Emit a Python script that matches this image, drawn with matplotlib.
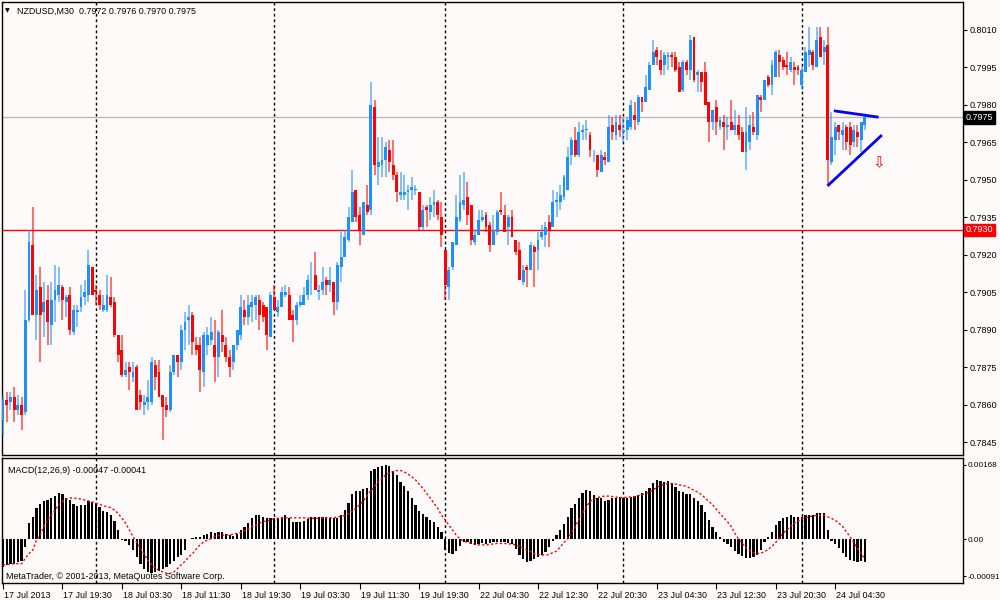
import numpy as np
import matplotlib
matplotlib.use("Agg")
import matplotlib.pyplot as plt
from matplotlib import transforms

# NZDUSD M30 candles, bar 0 = 17 Jul 2013 11:30
opens = [
    .7854, .7862, .7861, .7863, .7858, .7860, .7857, .7894, .7924, .7896,
    .7907, .7897, .7902, .7892, .7902, .7904, .7907, .7901, .7904, .7889,
    .7897, .7899, .7903, .7904, .7915, .7906, .7904, .7898, .7898, .7903,
    .7901, .7888, .7882, .7872, .7875, .7871, .7875, .7864, .7860, .7861,
    .7861, .7876, .7873, .7864, .7860, .7858, .7873, .7880, .7877, .7890,
    .7894, .7896, .7884, .7884, .7873, .7884, .7886, .7884, .7879, .7888,
    .7884, .7879, .7877, .7884, .7888, .7898, .7895, .7899, .7900, .7902,
    .7900, .7899, .7887, .7903, .7897, .7899, .7904, .7904, .7896, .7894,
    .7900, .7900, .7904, .7911, .7912, .7905, .7906, .7910, .7908, .7909,
    .7901, .7915, .7919, .7926, .7933, .7946, .7936, .7928, .7940, .7938,
    .7979, .7955, .7956, .7958, .7962, .7956, .7952, .7944, .7944, .7945,
    .7946, .7946, .7945, .7931, .7939, .7937, .7940, .7941, .7935, .7922,
    .7907, .7915, .7924, .7934, .7940, .7943, .7940, .7925, .7928, .7934,
    .7936, .7932, .7924, .7929, .7938, .7936, .7931, .7935, .7926, .7922,
    .7909, .7915, .7914, .7923, .7922, .7927, .7928, .7933, .7931, .7941,
    .7941, .7943, .7946, .7960, .7966, .7960, .7969, .7970, .7968, .7961,
    .7960, .7953, .7959, .7957, .7972, .7968, .7972, .7969, .7970, .7971,
    .7976, .7973, .7983, .7981, .7986, .7996, .8002, .7998, .7996, .7999,
    .8000, .7999, .7995, .7986, .7997, .7994, .8007, .7992, .7993, .7993,
    .7981, .7973, .7979, .7971, .7973, .7971, .7973, .7970, .7972, .7969,
    .7961, .7965, .7971, .7968, .7983, .7982, .7991, .7988, .7991, .8000,
    .7998, .7996, .7994, .7995, .7995, .7988, .7993, .8000, .8001, .7995,
    .8007, .8001, .8004, .7957, .7966, .7972, .7968, .7971, .7971, .7965,
    .7969, .7966, .7972,
]
highs = [
    .7864, .7865, .7865, .7867, .7864, .7863, .7906, .7930, .7939, .7912,
    .7915, .7909, .7908, .7909, .7916, .7915, .7908, .7904, .7907, .7900,
    .7900, .7908, .7910, .7922, .7915, .7908, .7906, .7904, .7912, .7911,
    .7903, .7888, .7888, .7877, .7877, .7877, .7876, .7866, .7864, .7870,
    .7879, .7878, .7878, .7864, .7863, .7876, .7880, .7880, .7892, .7897,
    .7900, .7897, .7887, .7887, .7889, .7891, .7895, .7894, .7890, .7898,
    .7887, .7882, .7884, .7890, .7904, .7902, .7904, .7904, .7904, .7904,
    .7901, .7899, .7905, .7908, .7902, .7907, .7908, .7907, .7898, .7901,
    .7904, .7907, .7912, .7917, .7921, .7908, .7915, .7911, .7915, .7909,
    .7917, .7929, .7930, .7939, .7954, .7946, .7939, .7941, .7948, .7989,
    .7982, .7967, .7967, .7965, .7966, .7966, .7953, .7953, .7952, .7948,
    .7951, .7948, .7945, .7940, .7940, .7943, .7946, .7942, .7941, .7922,
    .7915, .7925, .7944, .7952, .7953, .7949, .7940, .7930, .7938, .7938,
    .7937, .7933, .7936, .7938, .7945, .7940, .7936, .7938, .7926, .7925,
    .7916, .7916, .7925, .7924, .7929, .7932, .7933, .7936, .7946, .7945,
    .7948, .7952, .7963, .7967, .7971, .7973, .7972, .7974, .7969, .7962,
    .7960, .7962, .7961, .7976, .7975, .7976, .7976, .7975, .7975, .7982,
    .7981, .7984, .7983, .7992, .7997, .8006, .8003, .8002, .8001, .8001,
    .8001, .8001, .7997, .7998, .7998, .8008, .8007, .7994, .7993, .7997,
    .7981, .7978, .7982, .7975, .7976, .7975, .7982, .7978, .7976, .7971,
    .7979, .7976, .7977, .7984, .7984, .7990, .7992, .7998, .8002, .8002,
    .7999, .8001, .7999, .7997, .7996, .7995, .8003, .8011, .8002, .8011,
    .8011, .8006, .8011, .7977, .7973, .7972, .7973, .7972, .7973, .7972,
    .7972, .7973, .7976,
]
lows = [
    .7848, .7853, .7858, .7853, .7856, .7850, .7856, .7893, .7896, .7886,
    .7877, .7887, .7884, .7884, .7893, .7901, .7894, .7895, .7888, .7888,
    .7891, .7897, .7900, .7901, .7904, .7900, .7898, .7897, .7897, .7899,
    .7887, .7877, .7871, .7871, .7866, .7869, .7858, .7858, .7856, .7858,
    .7860, .7866, .7863, .7846, .7855, .7857, .7872, .7871, .7874, .7882,
    .7884, .7880, .7880, .7865, .7867, .7880, .7884, .7869, .7871, .7881,
    .7877, .7871, .7874, .7882, .7886, .7892, .7892, .7893, .7894, .7890,
    .7893, .7882, .7887, .7898, .7895, .7899, .7903, .7894, .7885, .7892,
    .7899, .7900, .7902, .7904, .7906, .7902, .7904, .7904, .7905, .7896,
    .7898, .7909, .7919, .7925, .7933, .7933, .7924, .7928, .7936, .7936,
    .7952, .7948, .7951, .7951, .7953, .7950, .7941, .7942, .7942, .7938,
    .7942, .7944, .7930, .7930, .7931, .7934, .7935, .7934, .7923, .7902,
    .7902, .7914, .7924, .7933, .7938, .7932, .7924, .7924, .7928, .7933,
    .7929, .7921, .7924, .7928, .7936, .7929, .7924, .7927, .7920, .7910,
    .7908, .7907, .7914, .7907, .7914, .7926, .7923, .7923, .7931, .7935,
    .7938, .7942, .7946, .7956, .7959, .7959, .7966, .7966, .7959, .7957,
    .7951, .7953, .7956, .7957, .7966, .7966, .7967, .7965, .7966, .7970,
    .7970, .7972, .7977, .7981, .7986, .7996, .7996, .7992, .7992, .7994,
    .7995, .7993, .7985, .7985, .7992, .7990, .7989, .7985, .7985, .7980,
    .7965, .7970, .7968, .7970, .7962, .7966, .7970, .7968, .7966, .7961,
    .7954, .7962, .7968, .7966, .7977, .7982, .7987, .7984, .7991, .7991,
    .7994, .7992, .7993, .7988, .7992, .7986, .7993, .7995, .7994, .7995,
    .7999, .7996, .7948, .7956, .7960, .7966, .7962, .7962, .7960, .7963,
    .7963, .7961, .7970,
]
closes = [
    .7862, .7860, .7863, .7858, .7860, .7856, .7894, .7925, .7896, .7906,
    .7896, .7901, .7893, .7902, .7906, .7908, .7902, .7903, .7890, .7898,
    .7898, .7903, .7905, .7916, .7904, .7905, .7900, .7900, .7904, .7900,
    .7888, .7880, .7872, .7874, .7873, .7873, .7858, .7861, .7861, .7863,
    .7877, .7871, .7863, .7859, .7858, .7873, .7880, .7877, .7890, .7893,
    .7895, .7885, .7882, .7874, .7888, .7888, .7889, .7879, .7889, .7885,
    .7879, .7875, .7884, .7890, .7899, .7895, .7900, .7901, .7903, .7896,
    .7895, .7888, .7904, .7898, .7899, .7905, .7905, .7894, .7894, .7900,
    .7901, .7904, .7910, .7911, .7906, .7906, .7909, .7908, .7910, .7901,
    .7916, .7919, .7927, .7935, .7945, .7935, .7930, .7941, .7937, .7980,
    .7956, .7957, .7958, .7963, .7957, .7952, .7945, .7945, .7945, .7946,
    .7947, .7946, .7931, .7938, .7938, .7940, .7941, .7936, .7928, .7908,
    .7914, .7925, .7935, .7941, .7942, .7936, .7926, .7928, .7934, .7935,
    .7931, .7924, .7930, .7937, .7937, .7929, .7935, .7927, .7921, .7910,
    .7914, .7914, .7924, .7921, .7926, .7929, .7931, .7930, .7941, .7942,
    .7944, .7951, .7959, .7966, .7960, .7969, .7970, .7970, .7962, .7961,
    .7954, .7960, .7958, .7971, .7969, .7973, .7970, .7970, .7974, .7980,
    .7974, .7983, .7981, .7987, .7996, .8001, .7999, .7994, .8000, .8000,
    .7999, .7994, .7985, .7997, .7994, .8006, .7990, .7993, .7989, .7980,
    .7973, .7978, .7973, .7974, .7971, .7972, .7970, .7972, .7968, .7961,
    .7969, .7972, .7969, .7984, .7982, .7990, .7988, .7996, .8001, .7997,
    .7995, .7995, .7997, .7994, .7994, .7994, .8001, .8002, .7996, .8006,
    .7999, .8003, .7958, .7967, .7971, .7969, .7970, .7965, .7964, .7970,
    .7967, .7973, .7975,
]

# MACD(12,26,9) main and signal, in units of 1e-5
macd_e5 = [
    -58, -54, -51, -51, -47, -46, -16, 33, 46, 65, 72, 79, 81, 86, 90, 95,
    93, 86, 81, 72, 69, 71, 71, 78, 76, 74, 67, 58, 56, 50, 37, 19,
    -2, -4, -12, -23, -37, -51, -62, -69, -71, -69, -67, -61, -58, -51, -46, -37,
    -32, -23, 1, 3, 5, 5, 8, 10, 14, 12, 14, 14, 10, 8, 7, 10,
    19, 26, 33, 43, 49, 49, 46, 44, 43, 44, 44, 46, 49, 43, 36, 36,
    36, 37, 42, 46, 46, 46, 46, 46, 44, 44, 44, 50, 60, 74, 93, 99,
    100, 104, 105, 140, 146, 149, 151, 153, 151, 142, 133, 119, 109, 99, 86, 71,
    58, 51, 46, 40, 36, 26, 15, -23, -28, -30, -25, -14, -7, -7, -11, -12,
    -11, -9, -11, -9, -7, -7, -7, -7, -9, -11, -21, -32, -42, -47, -46, -42,
    -37, -33, -26, -16, -4, 8, 19, 31, 46, 64, 72, 85, 95, 102, 100, 92,
    86, 85, 78, 81, 85, 86, 88, 86, 85, 88, 90, 92, 95, 99, 105, 116,
    122, 121, 119, 121, 116, 107, 99, 97, 93, 93, 86, 78, 71, 57, 40, 26,
    14, 5, -7, -11, -16, -25, -30, -35, -40, -40, -37, -32, -23, -7, 5, 14,
    29, 37, 43, 46, 49, 46, 46, 46, 50, 50, 49, 53, 53, 53, 19, -4,
    -11, -19, -28, -37, -44, -46, -47, -46, -47,
]
signal_e5 = [
    -54, -53, -52, -51, -51, -51, -40, -30, -23, -2, 8, 26, 40, 49, 60, 71,
    78, 83, 85, 85, 84, 83, 81, 79, 77, 74, 72, 69, 67, 65, 60, 53,
    43, 33, 19, 5, -7, -19, -32, -44, -53, -60, -65, -68, -71, -71, -68, -61,
    -53, -46, -37, -30, -21, -12, -6, -2, 1, 5, 7, 8, 8, 9, 10, 12,
    14, 17, 21, 26, 29, 33, 36, 38, 40, 42, 43, 44, 44, 44, 44, 44,
    44, 44, 43, 43, 43, 43, 44, 44, 44, 44, 46, 47, 49, 53, 58, 64,
    71, 79, 90, 100, 109, 118, 126, 133, 137, 140, 142, 142, 139, 135, 129, 123,
    114, 105, 95, 85, 74, 64, 50, 40, 29, 19, 8, 0, -4, -7, -9, -11,
    -12, -12, -12, -11, -10, -9, -9, -9, -10, -10, -12, -15, -19, -23, -26, -30,
    -32, -33, -33, -32, -28, -25, -16, -7, 1, 14, 26, 40, 53, 67, 78, 83,
    86, 88, 89, 89, 88, 87, 86, 86, 87, 87, 88, 90, 92, 94, 97, 102,
    107, 111, 114, 115, 115, 114, 112, 111, 109, 105, 101, 97, 92, 85, 78, 71,
    62, 53, 44, 36, 26, 12, 0, -9, -18, -24, -28, -30, -29, -26, -21, -15,
    -7, 3, 12, 19, 26, 33, 37, 42, 44, 46, 48, 49, 49, 49, 46, 43,
    39, 33, 26, 15, 5, -7, -19, -30, -41,
]

time_labels = [
    "17 Jul 2013", "17 Jul 19:30", "18 Jul 03:30", "18 Jul 11:30",
    "18 Jul 19:30", "19 Jul 03:30", "19 Jul 11:30", "19 Jul 19:30",
    "22 Jul 04:30", "22 Jul 12:30", "22 Jul 20:30", "23 Jul 04:30",
    "23 Jul 12:30", "23 Jul 20:30", "24 Jul 04:30",
]
label_bars = [0, 16, 32, 48, 64, 80, 96, 112, 128, 144, 160, 176, 192, 208, 224]
day_starts = [25, 73, 119, 167, 215]

price_ticks = [0.8010, 0.7995, 0.7980, 0.7965, 0.7950, 0.7935, 0.7920,
               0.7905, 0.7890, 0.7875, 0.7860, 0.7845]
level_price = 0.7930
bid_price = 0.7975
macd_top, macd_bottom = 0.00168, -0.00091

# hand-drawn objects on the chart (bar index, price)
upper_line_x, upper_line_y = [224.0, 235.3], [0.79776, 0.79752]
lower_line_x, lower_line_y = [222.2, 236.3], [0.7948, 0.79676]
arrow_x, arrow_y = 235.6, 0.7957

BG = "#FFFAFA"
BULL = "#1E90FF"
BEAR = "#FF0000"
FONT = "Liberation Sans"
FS = 6.4       # texts inside the chart and time scale
FS_R = 6.5     # price scale

fig = plt.figure(figsize=(10, 6), dpi=100, facecolor=BG)
ax = fig.add_axes([0.002, 0.2417, 0.961, 0.755], facecolor=BG)
ax2 = fig.add_axes([0.002, 0.0283, 0.961, 0.2084], facecolor=BG, sharex=ax)

o = np.array(opens)
h = np.array(highs)
l = np.array(lows)
c = np.array(closes)
x = np.arange(len(c))
up = c >= o
cols = np.where(up, BULL, BEAR)

ax.vlines(x, l, h, colors=cols, lw=1.1, alpha=0.7, zorder=3)
body_lo = np.minimum(o, c)
body_h = np.maximum(np.abs(c - o), 0.00002)
ax.bar(x, body_h, bottom=body_lo, width=0.78, color=cols, lw=0, zorder=4)

ax.axhline(level_price, color="red", lw=1, zorder=2)
ax.axhline(bid_price, color="#B8B8B8", lw=1, zorder=2)

ax.plot(upper_line_x, upper_line_y, color="#0000FF", lw=2, zorder=5)
ax.plot(lower_line_x, lower_line_y, color="#0000FF", lw=2, zorder=5)
ax.text(arrow_x, arrow_y, "\u21e9", color="red", fontsize=11,
        ha="center", va="center", family="DejaVu Sans", zorder=6)

ax.set_xlim(-0.27, 258.4)
ax.set_ylim(0.7840, 0.80212)
ax.yaxis.tick_right()
ax.set_yticks(price_ticks)
ax.set_yticklabels(["%.4f" % p for p in price_ticks], fontsize=FS_R, family=FONT)
ax.tick_params(axis="y", direction="out", length=3, width=0.8, pad=1.5)
ax.tick_params(axis="x", bottom=False, labelbottom=False)

for val, fc in [(bid_price, "black"), (level_price, "red")]:
    ax.annotate("%.4f" % val, xy=(1, val), xycoords=("axes fraction", "data"),
                xytext=(2, 0), textcoords="offset points", ha="left",
                va="center", color="white", fontsize=FS_R, family=FONT,
                bbox=dict(boxstyle="square,pad=0.2", fc=fc, ec=fc), zorder=10,
                annotation_clip=False)

# MACD window
mx = np.arange(len(macd_e5))
macd = np.array(macd_e5) / 1e5
sig = np.array(signal_e5) / 1e5
ax2.bar(mx, macd, width=0.6, color="black", lw=0, zorder=3)
ax2.plot(np.arange(len(sig)), sig, color="red", lw=1,
         linestyle=(0, (1.6, 1.6)), zorder=4)
ax2.set_ylim(macd_bottom, macd_top)
pad = (macd_top - macd_bottom) * 7 / 125
ax2.yaxis.tick_right()
ax2.set_yticks([macd_top - pad, 0, macd_bottom + pad])
ax2.set_yticklabels(["%.5f" % macd_top, "0.00", "%.5f" % macd_bottom],
                    fontsize=5.9, family=FONT)
ax2.tick_params(axis="y", direction="out", length=2.5, width=0.8, pad=1)

ax2.set_xticks(label_bars)
ax2.set_xticklabels(time_labels, fontsize=FS, family=FONT, ha="left")
ax2.tick_params(axis="x", direction="out", length=4, width=0.8, pad=2)
for lab in ax2.get_xticklabels():
    lab.set_transform(lab.get_transform() + transforms.ScaledTranslation(
        1 / 100, 0, fig.dpi_scale_trans))

for a in (ax, ax2):
    for d in day_starts:
        a.axvline(d, color="black", lw=1, linestyle=(0, (2, 2)), zorder=1)
    for s in a.spines.values():
        s.set_color("black")
        s.set_linewidth(1)

ax2.text(0.006, 0.9, "MACD(12,26,9) %.5f %.5f" % (macd[-1], sig[-1]),
         transform=ax2.transAxes, fontsize=FS, family=FONT, va="center")
ax2.text(0.004, 0.05, "MetaTrader, \u00a9 2001-2013, MetaQuotes Software Corp.",
         transform=ax2.transAxes, fontsize=FS, family=FONT, va="center")

fig.text(0.005, 0.9817, "\u25bc", fontsize=4.5, va="center", family="DejaVu Sans")
fig.text(0.017, 0.9817, "NZDUSD,M30  %.4f %.4f %.4f %.4f"
         % (o[-1], h[-1], l[-1], c[-1]), fontsize=FS, family=FONT, va="center")

fig.savefig("out.png", dpi=100, facecolor=BG)
